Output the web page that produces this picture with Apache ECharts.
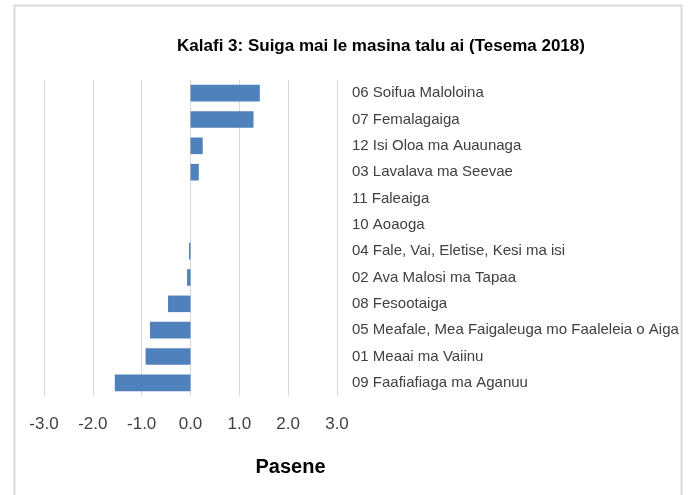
<!DOCTYPE html>
<html>
<head>
<meta charset="utf-8">
<script src="https://cdn.jsdelivr.net/npm/echarts@6/dist/echarts.min.js"></script>
<style>html,body{margin:0;padding:0;background:#fff;}#c{width:688px;height:495px;}</style>
</head>
<body>
<div id="c"></div>
<script>
const categories = [
  "06 Soifua Maloloina",
  "07 Femalagaiga",
  "12 Isi Oloa ma Auaunaga",
  "03 Lavalava ma Seevae",
  "11 Faleaiga",
  "10 Aoaoga",
  "04 Fale, Vai, Eletise, Kesi ma isi",
  "02 Ava Malosi ma Tapaa",
  "08 Fesootaiga",
  "05 Meafale, Mea Faigaleuga mo Faaleleia o Aiga",
  "01 Meaai ma Vaiinu",
  "09 Faafiafiaga ma Aganuu"
];
const values = [1.42, 1.29, 0.25, 0.17, 0.0, 0.0, -0.03, -0.07, -0.46, -0.83, -0.92, -1.55];
const xTicks = { min: -3, max: 3, interval: 1 };
const titleText = "Kalafi 3: Suiga mai le masina talu ai (Tesema 2018)";
const xName = "Pasene";

const chart = echarts.init(document.getElementById('c'), null, { renderer: 'canvas' });
chart.setOption({
  animation: false,
  backgroundColor: '#fff',
  title: {
    text: titleText,
    left: 376,
    top: 33,
    textAlign: 'center',
    textStyle: { fontFamily: 'Liberation Sans', fontWeight: 'bold', fontSize: 17, color: '#000' }
  },
  graphic: [
    { type: 'rect', shape: { x: 14.5, y: 5.5, width: 667, height: 500 }, style: { fill: 'none', stroke: '#d9d9d9', lineWidth: 2 }, silent: true }
  ],
  grid: { left: 44, right: 688 - 337, top: 80, bottom: 495 - 396, containLabel: false },
  xAxis: {
    type: 'value',
    min: xTicks.min, max: xTicks.max, interval: xTicks.interval,
    name: xName,
    nameLocation: 'middle',
    nameGap: 61,
    nameTextStyle: { fontFamily: 'Liberation Sans', fontWeight: 'bold', fontSize: 20, color: '#000', padding: [0, 0, 0, 200] },
    axisLine: { show: false },
    axisTick: { show: false },
    splitLine: { show: true, lineStyle: { color: '#d9d9d9', width: 1 } },
    axisLabel: {
      margin: 20,
      fontFamily: 'Liberation Sans', fontSize: 17, color: '#404040',
      formatter: v => v.toFixed(1)
    }
  },
  yAxis: {
    type: 'category',
    data: categories,
    inverse: true,
    position: 'right',
    axisLine: { show: false, onZero: false },
    axisTick: { show: false },
    splitLine: { show: false },
    axisLabel: {
      margin: 15,
      align: 'left',
      fontFamily: 'Liberation Sans', fontSize: 15, color: '#404040'
    }
  },
  series: [{
    type: 'bar',
    data: values,
    barCategoryGap: '37%',
    itemStyle: { color: '#4f81bd' }
  }]
});
</script>
</body>
</html>
